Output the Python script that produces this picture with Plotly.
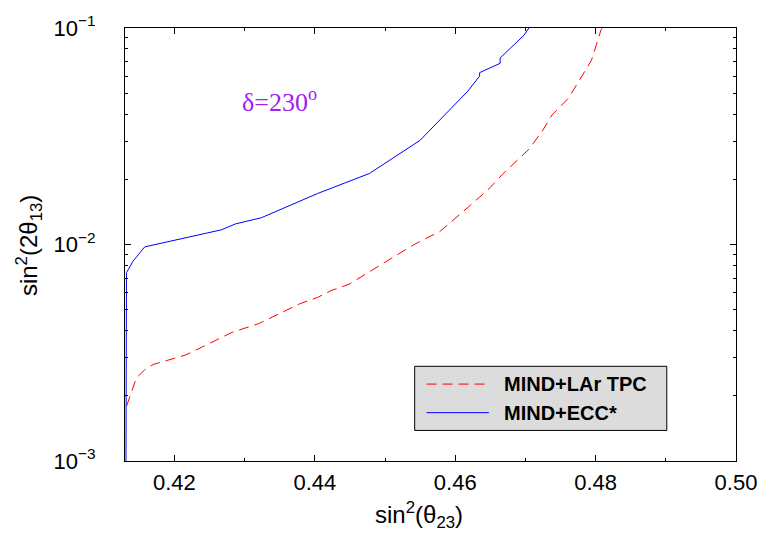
import plotly.graph_objects as go

# sin^2(theta23) vs sin^2(2 theta13) sensitivity contours, delta = 230 deg
ecc_x = [0.4131, 0.4131, 0.41317, 0.4141, 0.41577, 0.42665, 0.4287, 0.4324,
         0.4376, 0.4404, 0.4478, 0.4550, 0.4618, 0.46348, 0.46348, 0.4664,
         0.4664, 0.4698, 0.4705]
ecc_y = [0.001, 0.0070, 0.00741, 0.00837, 0.00975, 0.01168, 0.01245, 0.0133,
         0.0158, 0.0172, 0.0213, 0.0303, 0.0511, 0.0600, 0.0622, 0.0687,
         0.0727, 0.0926, 0.1]

lar_x = [0.4132, 0.41459, 0.41577, 0.41695, 0.42164, 0.42587, 0.42822, 0.4320,
         0.4353, 0.43784, 0.4404, 0.4423, 0.4449, 0.4475, 0.4517, 0.4541,
         0.4578, 0.4592, 0.4611, 0.4648, 0.4668, 0.4705, 0.4724, 0.4738,
         0.4761, 0.4777, 0.4794, 0.4808, 0.4810]
lar_y = [0.0018, 0.00242, 0.00264, 0.00279, 0.00309, 0.00362, 0.00393, 0.00431,
         0.00487, 0.00532, 0.0057, 0.00612, 0.00656, 0.0074, 0.0090, 0.00998,
         0.01148, 0.01253, 0.01416, 0.01807, 0.0212, 0.02754, 0.0334, 0.0397,
         0.0473, 0.0574, 0.0708, 0.0986, 0.1]

series_names = ["MIND+LAr TPC", "MIND+ECC*"]
y_tick_vals = [0.001, 0.01, 0.1]
y_tick_text = ["10<sup>−3</sup>", "10<sup>−2</sup>", "10<sup>−1</sup>"]
x_tick_vals = [0.42, 0.44, 0.46, 0.48, 0.50]
x_tick_text = ["0.42", "0.44", "0.46", "0.48", "0.50"]

RED = "#ff0000"
BLUE = "#0000ff"
RED_DASH = "10px,6px"
SANS = "Liberation Sans, Arial, sans-serif"

fig = go.Figure()
fig.add_trace(go.Scatter(x=lar_x, y=lar_y, mode="lines", name=series_names[0],
                         line=dict(color=RED, width=1, dash=RED_DASH),
                         showlegend=False))
fig.add_trace(go.Scatter(x=ecc_x, y=ecc_y, mode="lines", name=series_names[1],
                         line=dict(color=BLUE, width=1),
                         showlegend=False))

axis_common = dict(
    showline=True, linecolor="black", linewidth=1, mirror="ticks",
    ticks="inside", ticklen=6, tickwidth=1, tickcolor="black",
    showgrid=False, zeroline=False,
    tickfont=dict(family=SANS, size=22, color="black"),
)

fig.update_xaxes(range=[0.41296, 0.50], tickvals=x_tick_vals, ticktext=x_tick_text,
                 minor=dict(dtick=0.01, ticks="inside", ticklen=3, tickcolor="black",
                            showgrid=False),
                 ticklabelstandoff=2, **axis_common)
fig.update_yaxes(type="log", range=[-3, -1], tickvals=y_tick_vals, ticktext=y_tick_text,
                 minor=dict(dtick="D1", ticks="inside", ticklen=3, tickcolor="black",
                            showgrid=False),
                 ticklabelstandoff=24, **axis_common)

# Legend box drawn in paper coordinates
L, R, T, B = 125, 26, 22, 72
W, H = 769, 533
pw, ph = W - L - R, H - T - B


def px(xp):
    return (xp - L) / pw


def py(yp):
    return (H - B - yp) / ph


shapes = [
    dict(type="rect", xref="paper", yref="paper",
         x0=px(418), x1=px(673), y0=py(430), y1=py(365),
         fillcolor="#dcdcdc", line=dict(color="black", width=1), layer="above"),
    dict(type="line", xref="paper", yref="paper",
         x0=px(430), x1=px(493), y0=py(383), y1=py(383),
         line=dict(color=RED, width=1, dash=RED_DASH), layer="above"),
    dict(type="line", xref="paper", yref="paper",
         x0=px(430), x1=px(493), y0=py(412), y1=py(412),
         line=dict(color=BLUE, width=1), layer="above"),
]

annotations = [
    dict(text="<b>" + series_names[0] + "</b>", xref="paper", yref="paper",
         x=px(506), y=py(383), xanchor="left", yanchor="middle", showarrow=False,
         font=dict(family=SANS, size=20, color="black")),
    dict(text="<b>" + series_names[1] + "</b>", xref="paper", yref="paper",
         x=px(506), y=py(412), xanchor="left", yanchor="middle", showarrow=False,
         font=dict(family=SANS, size=20, color="black")),
    dict(text="δ=230<sup>o</sup>", xref="paper", yref="paper",
         x=px(241), y=py(96), xanchor="left", yanchor="middle", showarrow=False,
         font=dict(family="Liberation Serif, Times New Roman, serif", size=26,
                   color="#a020f0")),
    dict(text="sin<sup>2</sup>(θ<sub>23</sub>)", xref="paper", yref="paper",
         x=px(422), y=py(516), xanchor="center", yanchor="middle", showarrow=False,
         font=dict(family=SANS, size=24, color="black")),
    dict(text="sin<sup>2</sup>(2θ<sub>13</sub>)", xref="paper", yref="paper",
         x=px(28), y=py(243), xanchor="center", yanchor="middle", showarrow=False,
         textangle=-90, font=dict(family=SANS, size=24, color="black")),
]

fig.update_layout(
    width=W, height=H,
    margin=dict(l=L, r=R, t=T, b=B),
    paper_bgcolor="white", plot_bgcolor="white",
    showlegend=False,
    shapes=shapes, annotations=annotations,
)

fig.write_html("out.html")
